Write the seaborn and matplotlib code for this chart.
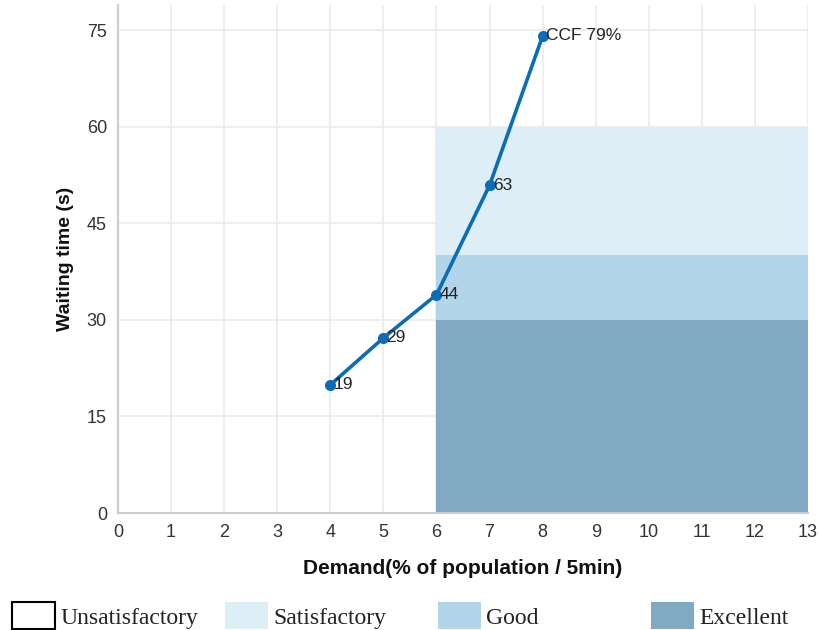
import matplotlib
matplotlib.use("Agg")
import matplotlib.pyplot as plt
import seaborn as sns
import pandas as pd
from matplotlib.patches import Patch

# ---- data ----
demand = [4, 5, 6, 7, 8]
waiting = [19.9, 27.2, 33.9, 50.9, 74.1]
point_labels = ["19", "29", "44", "63", "CCF 79%"]

band_names = ["Satisfactory", "Good", "Excellent"]
band_low = [40, 30, 0]
band_high = [60, 40, 30]
band_x = [6, 13]
band_colors = ["#ddeef7", "#b3d5ea", "#82a9c3"]

legend_names = ["Unsatisfactory", "Satisfactory", "Good", "Excellent"]
legend_colors = ["white", "#ddeef7", "#b3d5ea", "#82a9c3"]

x_ticks = list(range(0, 14))
y_ticks = [0, 15, 30, 45, 60, 75]

sns.set_style("white")
plt.rcParams["font.family"] = ["Liberation Sans", "DejaVu Sans"]

fig = plt.figure(figsize=(8.19, 6.3), dpi=100)
ax = fig.add_axes([0.1441, 0.1857, 0.8425, 0.8063])

# bands
for lo, hi, c in zip(band_low, band_high, band_colors):
    ax.fill_between(band_x, [lo, lo], [hi, hi], color=c, linewidth=0, zorder=1)

df = pd.DataFrame({"Demand": demand, "Waiting": waiting})
sns.lineplot(data=df, x="Demand", y="Waiting", ax=ax, color="#0a6db6",
             linewidth=2.6, marker="o", markersize=8, markeredgewidth=0,
             zorder=3)

for xv, yv, lab in zip(demand, waiting, point_labels):
    ax.text(xv + 0.06, yv, lab, fontsize=12.5, color="#222222",
            va="center", ha="left", zorder=4)

ax.set_xlim(0, 13)
ax.set_ylim(0, 78.9)
ax.set_xticks(x_ticks)
ax.set_yticks(y_ticks)
ax.tick_params(axis="both", length=0, labelsize=13, colors="#333333")
ax.tick_params(axis="x", pad=8)
ax.tick_params(axis="y", pad=8)
ax.grid(True, color="#ebebeb", linewidth=1.2)
ax.set_axisbelow(True)

for s in ["top", "right"]:
    ax.spines[s].set_visible(False)
for s in ["left", "bottom"]:
    ax.spines[s].set_color("#cccccc")
    ax.spines[s].set_linewidth(1.5)

ax.set_xlabel("Demand(% of population / 5min)", fontsize=15,
              fontweight="bold", color="#111111", labelpad=13)
ax.set_ylabel("Waiting time (s)", fontsize=14, fontweight="bold",
              color="#111111", labelpad=9)

# legend (four separate single-entry legends, evenly spaced)
x_starts = [12, 225, 438, 651]
for xs, name, col in zip(x_starts, legend_names, legend_colors):
    ec = "black" if col == "white" else col
    h = Patch(facecolor=col, edgecolor=ec, linewidth=1.5 if col == "white" else 0)
    leg = fig.legend(handles=[h], labels=[name], loc="lower left",
                     bbox_to_anchor=(xs / 819, 1 / 630), frameon=False,
                     borderpad=0, borderaxespad=0, handlelength=1.8,
                     handleheight=1.35, handletextpad=0.25,
                     prop={"family": "Liberation Serif", "size": 17})
    for t in leg.get_texts():
        t.set_color("#222222")

fig.savefig("out.png", dpi=100)
